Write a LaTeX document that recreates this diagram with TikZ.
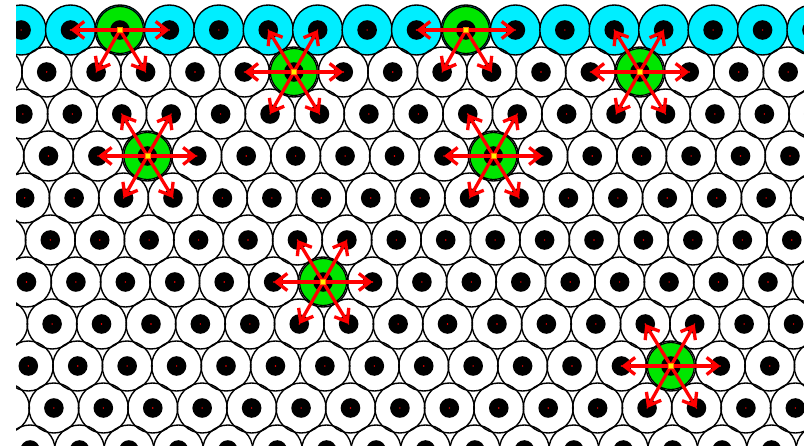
\documentclass[tikz,border=0pt]{standalone}
\usetikzlibrary{arrows.meta}
\definecolor{topcyan}{RGB}{0,238,255}
\definecolor{hubgreen}{RGB}{0,230,0}
\definecolor{coreyellow}{RGB}{255,240,0}
\definecolor{corered}{RGB}{255,0,0}
\tikzset{
  site/.style={circle, draw=black, line width=1.4pt, minimum size=50pt, inner sep=0pt},
  topsite/.style={site, fill=topcyan},
  hub/.style={fill=hubgreen, draw=black, line width=1.2pt},
  flow/.style={-{Straight Barb[length=11pt,width=17pt]}, line width=3.3pt, corered},
  core/.style={rectangle, fill=coreyellow, draw=orange, line width=0.6pt,
    minimum size=5pt, inner sep=0pt}
}

\begin{document}
\begin{tikzpicture}[x=1pt,y=-1pt]
  \useasboundingbox (0,0) rectangle (804,446);
  \fill[white] (0,0) rectangle (804,446);
  \clip (16,0) rectangle (804,446);
  % lattice of sites, top row in cyan
  \foreach \r in {0,...,10}{
    \foreach \k in {0,...,17}{
      \pgfmathsetmacro{\px}{-28.33+49.43*\k+24.7*mod(\r,2)+0.9*\r}
      \pgfmathsetmacro{\py}{30+42*\r}
      \ifnum\r=0
        \node[topsite] (s-\r-\k) at (\px,\py) {};
      \else
        \node[site] (s-\r-\k) at (\px,\py) {};
      \fi
    }
  }
  % green hubs
  \foreach \r/\k in {0/3,0/10,1/6,1/13,3/3,3/10,6/7,8/14}{
    \draw[hub] (s-\r-\k.center) circle (23.5);
  }
  % black dots with red centre
  \foreach \r in {0,...,10}{
    \foreach \k in {0,...,17}{
      \fill[black] (s-\r-\k.center) circle (9.8);
      \fill[corered] (s-\r-\k.center) circle (0.8);
    }
  }
  % arrows to the neighbours
  \foreach \r/\k in {0/3,0/10,1/6,1/13,3/3,3/10,6/7,8/14}{
    \pgfmathtruncatemacro{\kl}{\k-1}
    \pgfmathtruncatemacro{\kr}{\k+1}
    \pgfmathtruncatemacro{\ka}{\k-1+mod(\r,2)}
    \pgfmathtruncatemacro{\kb}{\k+mod(\r,2)}
    \pgfmathtruncatemacro{\ru}{\r-1}
    \pgfmathtruncatemacro{\rd}{\r+1}
    \draw[flow] (s-\r-\k.center) -- (s-\r-\kl.center);
    \draw[flow] (s-\r-\k.center) -- (s-\r-\kr.center);
    \draw[flow] (s-\r-\k.center) -- (s-\rd-\ka.center);
    \draw[flow] (s-\r-\k.center) -- (s-\rd-\kb.center);
    \ifnum\r>0
      \draw[flow] (s-\r-\k.center) -- (s-\ru-\ka.center);
      \draw[flow] (s-\r-\k.center) -- (s-\ru-\kb.center);
    \fi
    \node[core] (c-\r-\k) at (s-\r-\k.center) {};
  }
\end{tikzpicture}
\end{document}
